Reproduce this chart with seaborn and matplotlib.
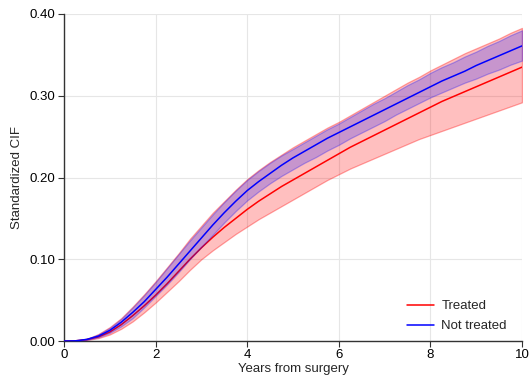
import matplotlib
matplotlib.use("Agg")
import matplotlib.pyplot as plt
import seaborn as sns
import pandas as pd
from matplotlib.ticker import FormatStrFormatter

years = [0, 0.25, 0.5, 0.75, 1, 1.25, 1.5, 1.75, 2, 2.25, 2.5, 2.75, 3, 3.25, 3.5, 3.75,
         4, 4.25, 4.5, 4.75, 5, 5.25, 5.5, 5.75, 6, 6.25, 6.5, 6.75, 7, 7.25, 7.5, 7.75,
         8, 8.25, 8.5, 8.75, 9, 9.25, 9.5, 9.75, 10]

treated = [0, 0.0002, 0.0018, 0.005, 0.011, 0.020, 0.031, 0.043, 0.056, 0.070, 0.085,
           0.100, 0.114, 0.127, 0.139, 0.150, 0.161, 0.171, 0.180, 0.189, 0.197, 0.205,
           0.213, 0.221, 0.229, 0.237, 0.244, 0.251, 0.258, 0.265, 0.272, 0.279, 0.286,
           0.293, 0.299, 0.305, 0.311, 0.317, 0.323, 0.329, 0.335]
treated_lo = [0, 0.0001, 0.0012, 0.0035, 0.008, 0.015, 0.024, 0.035, 0.047, 0.060, 0.073,
              0.087, 0.100, 0.111, 0.121, 0.131, 0.140, 0.149, 0.157, 0.165, 0.173, 0.181,
              0.189, 0.197, 0.204, 0.211, 0.217, 0.223, 0.229, 0.235, 0.241, 0.247, 0.252,
              0.257, 0.262, 0.267, 0.272, 0.277, 0.282, 0.287, 0.292]
treated_hi = [0, 0.0003, 0.0026, 0.0085, 0.017, 0.028, 0.042, 0.057, 0.073, 0.090, 0.107,
              0.125, 0.141, 0.157, 0.171, 0.185, 0.198, 0.209, 0.219, 0.228, 0.237, 0.245,
              0.253, 0.261, 0.268, 0.276, 0.284, 0.292, 0.300, 0.308, 0.316, 0.323, 0.331,
              0.338, 0.345, 0.352, 0.358, 0.364, 0.370, 0.377, 0.383]

not_treated = [0, 0.0002, 0.002, 0.006, 0.013, 0.023, 0.035, 0.048, 0.063, 0.078, 0.094,
               0.110, 0.126, 0.142, 0.157, 0.171, 0.184, 0.195, 0.205, 0.215, 0.224, 0.232,
               0.240, 0.248, 0.255, 0.262, 0.269, 0.276, 0.283, 0.290, 0.297, 0.304, 0.311,
               0.318, 0.324, 0.330, 0.337, 0.343, 0.349, 0.355, 0.361]
not_treated_lo = [0, 0.0001, 0.0015, 0.0045, 0.010, 0.018, 0.028, 0.041, 0.055, 0.069, 0.084,
                  0.100, 0.115, 0.130, 0.145, 0.159, 0.172, 0.183, 0.193, 0.202, 0.210, 0.218,
                  0.225, 0.233, 0.240, 0.248, 0.255, 0.262, 0.269, 0.277, 0.284, 0.291, 0.298,
                  0.304, 0.310, 0.316, 0.321, 0.327, 0.332, 0.338, 0.343]
not_treated_hi = [0, 0.0003, 0.0025, 0.008, 0.016, 0.027, 0.041, 0.056, 0.072, 0.089, 0.106,
                  0.123, 0.139, 0.155, 0.170, 0.184, 0.197, 0.208, 0.218, 0.227, 0.235, 0.243,
                  0.251, 0.259, 0.266, 0.274, 0.282, 0.290, 0.297, 0.305, 0.313, 0.320, 0.328,
                  0.335, 0.341, 0.348, 0.354, 0.361, 0.367, 0.374, 0.380]

labels = ["Treated", "Not treated"]

sns.set_style("white")
plt.rcParams['font.family'] = ['Liberation Sans', 'DejaVu Sans']

fig = plt.figure(figsize=(5.30, 3.77), dpi=100)
ax = fig.add_axes([64/530, 36/377, (522-64)/530, (341-14)/377])

df_t = pd.DataFrame({"x": years, "y": treated})
df_n = pd.DataFrame({"x": years, "y": not_treated})

ax.fill_between(years, treated_lo, treated_hi, facecolor=(1, 0, 0, 0.25),
                edgecolor=(1, 0, 0, 0.35), linewidth=0.9, zorder=2)
sns.lineplot(data=df_t, x="x", y="y", ax=ax, color="#ff0000", linewidth=1.1,
             label=labels[0], zorder=3)
ax.fill_between(years, not_treated_lo, not_treated_hi, facecolor=(0, 0, 1, 0.22),
                edgecolor=(0, 0, 1, 0.28), linewidth=0.9, zorder=4)
sns.lineplot(data=df_n, x="x", y="y", ax=ax, color="#0000ff", linewidth=1.1,
             label=labels[1], zorder=5)

ax.set_xlim(0, 10)
ax.set_ylim(0, 0.40)
ax.set_xticks([0, 2, 4, 6, 8, 10])
ax.set_yticks([0, 0.1, 0.2, 0.3, 0.4])
ax.yaxis.set_major_formatter(FormatStrFormatter("%.2f"))
ax.grid(True, color="#e6e6e6", linewidth=0.8, zorder=0)
ax.set_axisbelow(True)
for s in ["top", "right"]:
    ax.spines[s].set_visible(False)
for s in ["left", "bottom"]:
    ax.spines[s].set_color("#333333")
    ax.spines[s].set_linewidth(1.0)
ax.tick_params(axis="both", direction="out", length=4, width=0.8, color="#333333",
               labelsize=9.5, labelcolor="black", pad=2, left=True, bottom=True)
ax.set_xlabel("Years from surgery", fontsize=9.5, labelpad=1)
ax.set_ylabel("Standardized CIF", fontsize=9.5, labelpad=5)

leg = ax.legend(loc="lower right", frameon=False, fontsize=9.5, handlelength=2.05,
                handletextpad=0.6, borderaxespad=0.6, labelspacing=0.6,
                bbox_to_anchor=(0.996, -0.014))

fig.savefig("out.png", dpi=100)
